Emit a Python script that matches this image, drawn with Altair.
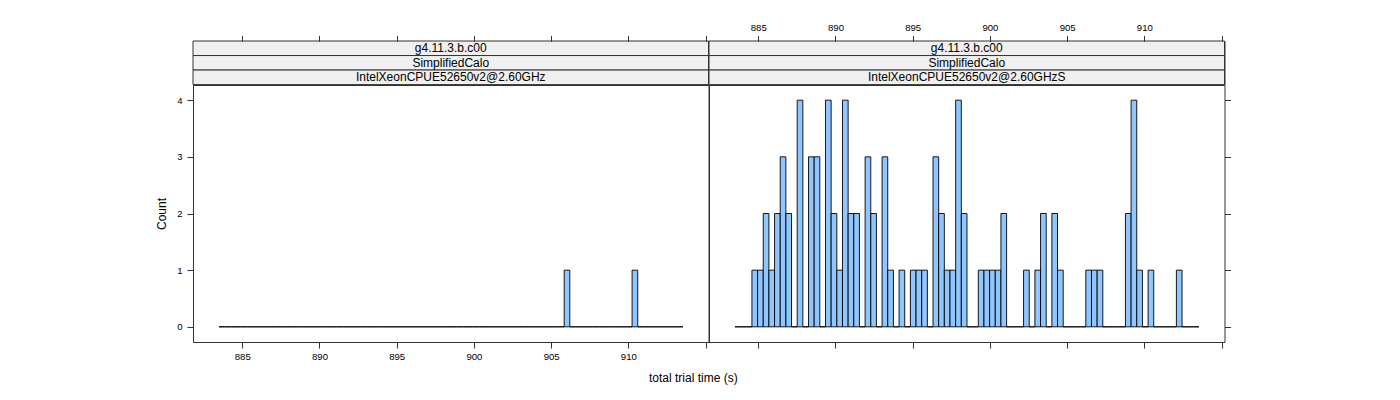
import altair as alt
import pandas as pd

# ---- data ----
bin_start = 883.49      # first histogram break
bin_width = 0.36646     # width of each break interval
strip_top = "g4.11.3.b.c00"
strip_mid = "SimplifiedCalo"
strip_left_cpu = "IntelXeonCPUE52650v2@2.60GHz"
strip_right_cpu = "IntelXeonCPUE52650v2@2.60GHzS"

left_counts = [
    0, 0, 0, 0, 0, 0, 0, 0, 0, 0,
    0, 0, 0, 0, 0, 0, 0, 0, 0, 0,
    0, 0, 0, 0, 0, 0, 0, 0, 0, 0,
    0, 0, 0, 0, 0, 0, 0, 0, 0, 0,
    0, 0, 0, 0, 0, 0, 0, 0, 0, 0,
    0, 0, 0, 0, 0, 0, 0, 0, 0, 0,
    0, 1, 0, 0, 0, 0, 0, 0, 0, 0,
    0, 0, 0, 1, 0, 0, 0, 0, 0, 0,
    0, 0,
]
right_counts = [
    0, 0, 0, 1, 1, 2, 1, 2, 3, 2,
    0, 4, 0, 3, 3, 0, 4, 2, 1, 4,
    2, 2, 0, 3, 2, 0, 3, 1, 0, 1,
    0, 1, 1, 1, 0, 3, 2, 1, 1, 4,
    2, 0, 0, 1, 1, 1, 1, 2, 0, 0,
    0, 1, 0, 1, 2, 0, 2, 1, 0, 0,
    0, 0, 1, 1, 1, 0, 0, 0, 0, 2,
    4, 1, 0, 1, 0, 0, 0, 0, 1, 0,
    0, 0,
]
x_tick_values = [885, 890, 895, 900, 905, 910, 915]
y_tick_values = [0, 1, 2, 3, 4]

# ---- styling / layout ----
W = 515.5
H_PLOT = 257
H_STRIP = 43.6
BAR = "#8FC6FF"
LINE = "#333333"
FONT = "Liberation Sans"
x_scale = alt.Scale(domain=[881.81, 915.19], nice=False, zero=False)
y_scale = alt.Scale(domain=[-0.268, 4.268], nice=False, zero=False)


def x_axis(orient, show_labels, offset=0):
    return alt.Axis(
        orient=orient, values=x_tick_values, labels=show_labels,
        labelExpr="datum.value <= 910 ? datum.label : ''",
        title=None, domain=False, grid=False, ticks=True,
        tickSize=6, tickColor=LINE, tickWidth=1,
        labelFontSize=9.6, labelFont=FONT, labelColor="black",
        labelPadding=3, offset=offset, labelFlush=False, labelOverlap=False,
    )


def y_axis(orient, show_labels, title):
    kw = dict(
        orient=orient, values=y_tick_values, labels=show_labels,
        domain=False, grid=False, ticks=True, tickSize=6,
        tickColor=LINE, tickWidth=1, labelFontSize=9.6, labelFont=FONT,
        labelColor="black", labelPadding=5, labelFlush=False,
        labelOverlap=False,
    )
    if title:
        kw.update(title=title, titleFontSize=12, titleFont=FONT,
                  titleFontWeight="normal", titleColor="black",
                  titlePadding=8)
    else:
        kw.update(title=None)
    return alt.Axis(**kw)


def plot_panel(counts, y_orient, y_labels, y_title, bottom_labels, top_labels):
    df = pd.DataFrame({
        "x0": [bin_start + i * bin_width for i in range(len(counts))],
        "x1": [bin_start + (i + 1) * bin_width for i in range(len(counts))],
        "count": counts,
    })
    base = alt.Chart(df)
    bars = base.mark_rect(fill=BAR, stroke="black", strokeWidth=0.9).encode(
        x=alt.X("x0:Q", scale=x_scale, axis=x_axis("bottom", bottom_labels)),
        x2="x1:Q",
        y=alt.Y("count:Q", scale=y_scale, axis=y_axis(y_orient, y_labels, y_title)),
        y2=alt.datum(0),
    )
    # invisible layer that only carries the top x axis (ticks above the strips)
    top = base.mark_tick(opacity=0).encode(
        x=alt.X("x0:Q", scale=x_scale, axis=x_axis("top", top_labels, offset=H_STRIP)),
    )
    return alt.layer(bars, top).properties(width=W, height=H_PLOT)


def strip_panel(labels):
    df = pd.DataFrame({"level": [0, 1, 2], "label": labels})
    base = alt.Chart(df)
    ysc = alt.Scale(paddingInner=0, paddingOuter=0)
    rect = base.mark_rect(fill="#F0F0F0", stroke=LINE, strokeWidth=1).encode(
        y=alt.Y("level:O", axis=None, scale=ysc),
    )
    text = base.mark_text(fontSize=12, font=FONT, color="black",
                          baseline="middle", align="center").encode(
        y=alt.Y("level:O", axis=None, scale=ysc),
        x=alt.value(W / 2),
        text="label:N",
    )
    return alt.layer(rect, text).properties(width=W, height=H_STRIP)


strip_l = strip_panel([strip_top, strip_mid, strip_left_cpu])
strip_r = strip_panel([strip_top, strip_mid, strip_right_cpu])
plot_l = plot_panel(left_counts, "left", True, "Count", True, False)
plot_r = plot_panel(right_counts, "right", False, None, False, True)

chart = alt.concat(
    strip_l, strip_r, plot_l, plot_r, columns=2, spacing=0, bounds="flush"
).properties(
    padding={"left": 155, "top": 21, "right": 5, "bottom": 5},
    background="white",
    title=alt.TitleParams(
        "total trial time (s)", orient="bottom", anchor="middle",
        fontSize=12, font=FONT, fontWeight="normal", color="black", offset=12,
    ),
).configure_view(stroke=LINE, strokeWidth=1)

chart.save("out.html", embed_options={"renderer": "svg", "actions": False})
